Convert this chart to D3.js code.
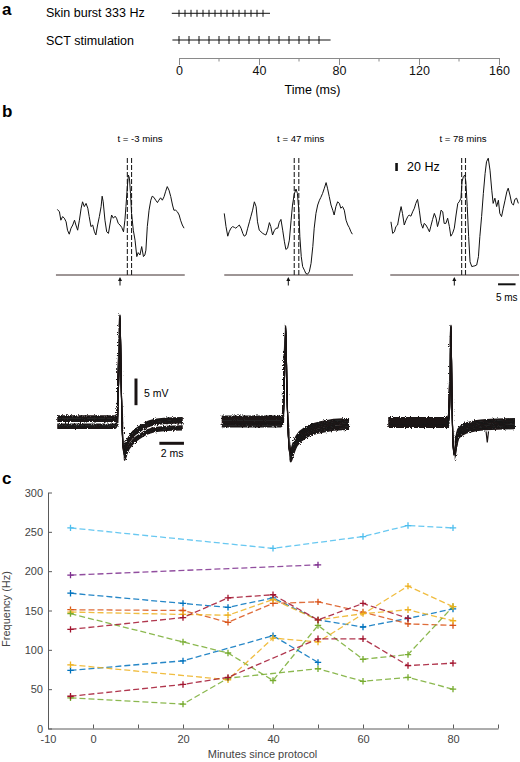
<!DOCTYPE html>
<html><head><meta charset="utf-8">
<script src="https://cdn.jsdelivr.net/npm/d3@7"></script>
<style>
body{margin:0;background:#fff}
svg{display:block}
text{font-family:"Liberation Sans",Arial,sans-serif}
</style>
</head><body>
<svg id="chart" width="520" height="762"></svg>
<script>
// ---------------- DATA ----------------
// Panel a: stimulus times (ms)
const skinBurstTimes = [0,3,6,9,12,15,18,21,24,27,30,33,36,39,42];
const sctTimes = [0,5,10,15,20,25,30,35,40,45,50,55,60,65,70];
const skinBurstSpan = [-3.6, 45.5];
const sctSpan = [-3.3, 75.8];
const timeMajorTicks = [0,40,80,120,160];
const timeMinorTicks = [20,60,100,140];

// Panel b (upper): instantaneous frequency traces [ms, Hz]
const traceLabels = ["t = -3 mins", "t = 47 mins", "t = 78 mins"];
const trace1 = [[-17.9,164],[-17.3,158],[-16.9,137],[-16.4,146],[-15.9,142],[-15.4,133],[-15.0,112],[-14.5,102],[-14.0,117],[-13.5,125],[-13.0,137],[-12.6,125],[-12.1,112],[-11.6,137],[-11.1,167],[-10.7,183],[-10.2,171],[-9.7,179],[-9.2,167],[-8.8,146],[-8.3,121],[-7.8,125],[-7.3,108],[-6.9,100],[-6.4,125],[-5.9,146],[-5.4,171],[-5.1,197],[-4.8,183],[-4.3,137],[-3.8,108],[-3.3,104],[-2.9,125],[-2.4,150],[-1.9,142],[-1.4,147],[-1.0,142],[-0.5,129],[0,125],[0.5,119],[1.0,108],[1.4,137],[1.7,171],[2.1,221],[2.4,250],[2.7,242],[3.0,204],[3.3,154],[3.8,112],[4.3,87],[4.8,46],[5.2,56],[5.7,50],[6.2,71],[6.7,46],[7.1,50],[7.4,62],[7.8,121],[8.3,162],[8.8,187],[9.2,197],[9.7,194],[10.2,187],[10.7,181],[11.1,187],[11.6,193],[12.1,187],[12.6,196],[13.0,208],[13.5,221],[14.0,212],[14.5,196],[15.0,175],[15.4,162],[15.9,162],[16.4,158],[16.9,150],[17.3,137],[17.8,125],[18.3,117]];
const trace2 = [[-18.3,154],[-17.8,121],[-17.3,97],[-16.9,108],[-16.4,117],[-15.9,121],[-15.4,119],[-15.0,117],[-14.5,121],[-14.0,125],[-13.5,117],[-13.0,104],[-12.6,97],[-12.1,100],[-11.6,117],[-11.1,133],[-10.7,146],[-10.2,162],[-9.7,183],[-9.2,171],[-8.8,133],[-8.3,112],[-7.8,108],[-7.3,104],[-6.9,102],[-6.4,100],[-5.9,112],[-5.4,131],[-5.0,121],[-4.5,100],[-4.0,111],[-3.5,117],[-3.0,117],[-2.6,131],[-2.1,139],[-1.6,112],[-1.1,83],[-0.7,64],[-0.2,67],[0.3,87],[0.8,137],[1.2,175],[1.7,202],[2.2,215],[2.6,204],[3.0,162],[3.3,96],[3.7,46],[4.1,21],[4.6,12],[5.0,4],[5.5,2],[6.0,8],[6.5,29],[7.0,71],[7.4,117],[7.9,154],[8.4,175],[8.9,187],[9.3,194],[9.8,204],[10.3,217],[10.8,231],[11.2,217],[11.7,196],[12.2,175],[12.7,162],[13.1,150],[13.6,171],[14.1,183],[14.6,179],[15.0,167],[15.5,171],[16.0,162],[16.5,137],[17.0,125],[17.4,119],[17.9,108],[18.3,102]];
const trace3 = [[-18.1,133],[-17.6,104],[-17.1,108],[-16.7,121],[-16.2,125],[-15.7,150],[-15.2,171],[-14.8,154],[-14.3,125],[-13.8,137],[-13.3,146],[-12.9,150],[-12.4,147],[-11.9,158],[-11.4,167],[-11.0,179],[-10.5,189],[-10.0,162],[-9.5,129],[-9.0,117],[-8.6,129],[-8.1,125],[-7.6,117],[-7.1,108],[-6.7,122],[-6.2,139],[-5.7,154],[-5.2,142],[-4.8,121],[-4.3,137],[-3.8,162],[-3.3,158],[-2.9,129],[-2.4,129],[-1.9,142],[-1.4,121],[-1.0,97],[-0.5,104],[0,117],[0.5,150],[1.0,179],[1.4,183],[1.9,192],[2.2,233],[2.6,246],[3.0,250],[3.3,233],[3.7,171],[4.1,96],[4.5,33],[5.0,21],[5.4,22],[5.9,23],[6.4,25],[6.9,46],[7.3,96],[7.8,146],[8.3,204],[8.8,254],[9.2,283],[9.7,292],[10.2,262],[10.7,212],[11.1,179],[11.6,192],[12.1,171],[12.6,187],[13.0,154],[13.5,146],[14.0,167],[14.5,187],[15.0,208],[15.4,217],[15.9,200],[16.4,179],[16.9,175],[17.3,189],[17.8,192],[18.3,179]];
const cursors1 = [2.1, 3.3];
const cursors2 = [1.7, 3.0];
const cursors3 = [2.1, 3.2];
const freqScaleBar = [260, 280];   // 20 Hz
const timeScaleBar = [12.5, 17.5]; // 5 ms

// Panel b (lower): spike waveform [ms] / [mV] and sweep baseline offsets [mV]
const spikeA_T = [-5.1,-0.4,-0.2,-0.1,0.0,0.1,0.22,0.35,0.55,1.1,1.6,2.4,3.8,5.1];
const spikeA_V = [0,0,0.8,9,19.8,7,-3.5,-6,-4.7,-2.8,-1.9,-0.9,-0.4,-0.3];
const spikeB_T = [-5.2,-0.4,-0.2,-0.1,0.0,0.1,0.25,0.4,0.6,0.9,1.7,2.8,5.0,5.15];
const spikeB_V = [0,0,0.8,8,17.7,6,-4,-6.6,-5.2,-3.6,-2,-1.1,-0.5,-0.5];
const spikeC_T = [-5.1,-0.3,-0.15,-0.07,0.0,0.07,0.15,0.25,0.4,0.6,1.27,2.9,5.2];
const spikeC_V = [0,0,0.8,8,18,6,-3,-6,-4,-2.1,-1,-0.4,-0.2];
const sweepOffsetsA = [1.0, 0.75, 0.45, 0.15, -0.55, -0.85, -1.15];
const sweepOffsetsB = [0.85, 0.55, 0.25, -0.05, -0.4, -0.7, -1.0];
const sweepOffsetsC = [0.75, 0.45, 0.2, -0.1, -0.4, -0.7, -0.95];
const artifactC = [[2.85,-0.8],[2.95,-2.9],[3.05,-0.8]];
const mvScaleBar = [3.1, 8.1];  // 5 mV
const msScaleBar = [3.2, 5.2];  // 2 ms

// Panel c: frequency (Hz) vs minutes since protocol
const minutes = [-5, 20, 30, 40, 50, 60, 70, 80];
const seriesLightBlue = [255, null, null, 229, null, 244, 258, 255];
const seriesPurple    = [195, null, null, null, 208, null, null, null];
const seriesBlue1     = [172, 159, 154, 166, 138, 129, 140, 152];
const seriesBlue2     = [74, 86, null, 118, 84, null, null, null];
const seriesOrange    = [151, 150, 135, 159, 161, 148, 133, 131];
const seriesYellow1   = [148, 145, 144, 164, 138, 146, 151, 137];
const seriesYellow2   = [81, null, 62, 115, 110, null, 181, 155];
const seriesGreen1    = [146, 110, 96, 61, 131, 88, 94, 155];
const seriesGreen2    = [39, 31, 64, null, 76, 60, 65, 50];
const seriesRed1      = [126, 141, 166, 170, 138, 159, 140, null];
const seriesRed2      = [41, 56, 65, null, 114, 114, 80, 83];
const xTickValues = [-10,0,10,20,30,40,50,60,70,80,90];
const xTickLabels = [-10,0,20,40,60,80];
const yTickValues = [0,50,100,150,200,250,300];

// ---------------- DRAW ----------------
const svg = d3.select("#chart");

// panel letters
[["a",2,15],["b",2,117],["c",2,484]].forEach(([t,x,y]) =>
  svg.append("text").attr("x",x).attr("y",y).attr("font-size",17).attr("font-weight","bold").text(t));

// ===== Panel a =====
const ta = d3.scaleLinear().domain([0,160]).range([179,499]);
svg.append("text").attr("x",46).attr("y",16.7).attr("font-size",12.5).text("Skin burst 333 Hz");
svg.append("text").attr("x",46).attr("y",45).attr("font-size",12.5).text("SCT stimulation");
function train(times, span, y, h) {
  const g = svg.append("g").attr("stroke","#111").attr("stroke-width",1);
  g.append("line").attr("x1",ta(span[0])).attr("x2",ta(span[1])).attr("y1",y).attr("y2",y);
  g.selectAll("line.tk").data(times).join("line").attr("class","tk")
    .attr("x1",d=>ta(d)).attr("x2",d=>ta(d)).attr("y1",y-h).attr("y2",y+h);
}
train(skinBurstTimes, skinBurstSpan, 13.3, 3.5);
train(sctTimes, sctSpan, 40, 4);
const axA = svg.append("g").attr("transform","translate(0,58)")
  .call(d3.axisBottom(ta).tickValues(timeMajorTicks).tickSize(7).tickSizeOuter(0).tickPadding(1.5));
axA.select(".domain").attr("stroke","#8a8a8a");
axA.selectAll(".tick line").attr("stroke","#8a8a8a");
axA.selectAll("text").attr("font-size",12.5).attr("fill","#111").attr("font-family","Liberation Sans, Arial, sans-serif");
svg.append("g").selectAll("line").data(timeMinorTicks).join("line")
  .attr("x1",d=>ta(d)).attr("x2",d=>ta(d)).attr("y1",58).attr("y2",61.5).attr("stroke","#8a8a8a");
svg.append("text").attr("x",312.5).attr("y",94).attr("text-anchor","middle").attr("font-size",12.5).text("Time (ms)");

// ===== Panel b upper =====
const upper = [
  {data: trace1, cursors: cursors1, x0: 120,   lx: 140},
  {data: trace2, cursors: cursors2, x0: 288.3, lx: 300.7},
  {data: trace3, cursors: cursors3, x0: 454.3, lx: 463}
];
let lastScales = null;
upper.forEach((p,i) => {
  const x = d3.scaleLinear().domain([-20,20]).range([p.x0-70, p.x0+70]);
  const y = d3.scaleLinear().domain([0,300]).range([275,155]);
  lastScales = {x,y};
  const g = svg.append("g");
  g.append("text").attr("x",p.lx).attr("y",141.5).attr("text-anchor","middle")
    .attr("font-family","DejaVu Sans, Verdana, sans-serif").attr("font-size",9.6).text(traceLabels[i]);
  g.append("line").attr("x1",x(-18.3)).attr("x2",x(18.5)).attr("y1",y(0)).attr("y2",y(0))
    .attr("stroke","#3d2c2c").attr("stroke-width",1);
  g.selectAll("line.cur").data(p.cursors).join("line").attr("class","cur")
    .attr("x1",d=>x(d)).attr("x2",d=>x(d)).attr("y1",y(0)).attr("y2",y(293))
    .attr("stroke","#222").attr("stroke-width",1.1).attr("stroke-dasharray","5,2");
  g.append("path").datum(p.data)
    .attr("d", d3.line().x(d=>x(d[0])).y(d=>y(d[1])))
    .attr("fill","none").attr("stroke","#111").attr("stroke-width",1);
  g.append("line").attr("x1",x(0)).attr("x2",x(0)).attr("y1",278.5).attr("y2",285.5)
    .attr("stroke","#111").attr("stroke-width",1);
  g.append("path").attr("d",`M${x(0)-2},${281}L${x(0)},${277}L${x(0)+2},${281}Z`).attr("fill","#111");
});
{
  const {x,y} = lastScales;
  svg.append("line").attr("x1",x(-16.5)).attr("x2",x(-16.5)).attr("y1",y(freqScaleBar[0])).attr("y2",y(freqScaleBar[1]))
    .attr("stroke","#111").attr("stroke-width",2.6);
  svg.append("text").attr("x",407).attr("y",170.5).attr("font-size",12.5).text("20 Hz");
  svg.append("line").attr("x1",x(timeScaleBar[0])).attr("x2",x(timeScaleBar[1])).attr("y1",284.3).attr("y2",284.3)
    .attr("stroke","#111").attr("stroke-width",2);
  svg.append("text").attr("x",x((timeScaleBar[0]+timeScaleBar[1])/2)).attr("y",301).attr("text-anchor","middle")
    .attr("font-size",10).text("5 ms");
}

// ===== Panel b lower =====
const defs = svg.append("defs");
const flt = defs.append("filter").attr("id","rough").attr("x","-5%").attr("y","-30%").attr("width","110%").attr("height","160%");
flt.append("feTurbulence").attr("type","fractalNoise").attr("baseFrequency","1.1").attr("numOctaves",2).attr("seed",7).attr("result","n");
flt.append("feDisplacementMap").attr("in","SourceGraphic").attr("in2","n").attr("scale",3.2);

const lower = [
  {T: spikeA_T, V: spikeA_V, off: sweepOffsetsA, x0: 120,   y0: 421.7},
  {T: spikeB_T, V: spikeB_V, off: sweepOffsetsB, x0: 285.7, y0: 421},
  {T: spikeC_T, V: spikeC_V, off: sweepOffsetsC, x0: 451,   y0: 422}
];
let firstLower = null;
lower.forEach((p,i) => {
  const x = d3.scaleLinear().domain([0,10]).range([p.x0, p.x0+123]);
  const y = d3.scaleLinear().domain([0,10]).range([p.y0, p.y0-53.3]);
  if (i===0) firstLower = {x,y};
  const pts = d3.zip(p.T, p.V);
  const gen = o => d3.line().curve(d3.curveMonotoneX).x(d=>x(d[0])).y(d=>y(d[1]+o));
  // clip: noisy band outside the spike strip, clean stroke inside it
  const sx0 = x(-0.12), sx1 = x(0.3);
  const cpOut = defs.append("clipPath").attr("id","out"+i);
  cpOut.append("rect").attr("x",0).attr("y",300).attr("width",sx0).attr("height",180);
  cpOut.append("rect").attr("x",sx1).attr("y",300).attr("width",520-sx1).attr("height",180);
  defs.append("clipPath").attr("id","in"+i).append("rect").attr("x",sx0).attr("y",300).attr("width",sx1-sx0).attr("height",180);
  const gOut = svg.append("g").attr("clip-path",`url(#out${i})`).append("g").attr("filter","url(#rough)");
  const gIn = svg.append("g").attr("clip-path",`url(#in${i})`);
  p.off.forEach(o => {
    gOut.append("path").datum(pts).attr("d", gen(o))
      .attr("fill","none").attr("stroke","#1a1414").attr("stroke-width",2.1).attr("stroke-linejoin","round");
    gIn.append("path").datum(pts).attr("d", gen(o*0.3))
      .attr("fill","none").attr("stroke","#1a1414").attr("stroke-width",1.1).attr("stroke-linejoin","round");
  });
  if (i===2) {
    svg.append("path").datum(artifactC)
      .attr("d", d3.line().x(d=>x(d[0])).y(d=>y(d[1]+p.off[6])))
      .attr("fill","none").attr("stroke","#1a1414").attr("stroke-width",1.2);
  }
});
{
  const {x,y} = firstLower;
  svg.append("line").attr("x1",x(1.3)).attr("x2",x(1.3)).attr("y1",y(mvScaleBar[0])).attr("y2",y(mvScaleBar[1]))
    .attr("stroke","#1a1414").attr("stroke-width",3);
  svg.append("text").attr("x",144).attr("y",396.5).attr("font-size",10.5).text("5 mV");
  svg.append("line").attr("x1",x(msScaleBar[0])).attr("x2",x(msScaleBar[1])).attr("y1",443.3).attr("y2",443.3)
    .attr("stroke","#1a1414").attr("stroke-width",3);
  svg.append("text").attr("x",160.7).attr("y",456.5).attr("font-size",10.5).text("2 ms");
}

// ===== Panel c =====
const xc = d3.scaleLinear().domain([-10,90]).range([48,498]);
const yc = d3.scaleLinear().domain([0,300]).range([728.5,492.5]);
const axisCol = "#5a5a5a";
const gx = svg.append("g").attr("transform","translate(0,728.5)")
  .call(d3.axisBottom(xc).tickValues(xTickValues).tickSize(-4).tickSizeOuter(0).tickPadding(6.7)
    .tickFormat(d => xTickLabels.includes(d) ? d : ""));
const gy = svg.append("g").attr("transform","translate(48,0)")
  .call(d3.axisLeft(yc).tickValues(yTickValues).tickSize(-4).tickSizeOuter(0).tickPadding(5));
[gx,gy].forEach(g => {
  g.select(".domain").attr("stroke",axisCol);
  g.selectAll(".tick line").attr("stroke",axisCol);
  g.selectAll("text").attr("font-size",11).attr("fill","#444").attr("font-family","Liberation Sans, Arial, sans-serif");
});
svg.append("text").attr("x",262.5).attr("y",757.5).attr("text-anchor","middle").attr("font-size",11).attr("fill","#444")
  .text("Minutes since protocol");
svg.append("text").attr("transform","translate(10,609) rotate(-90)").attr("text-anchor","middle").attr("font-size",11)
  .attr("fill","#444").text("Frequency (Hz)");

const seriesList = [
  {v: seriesBlue1, c: "#0072BD"},
  {v: seriesOrange, c: "#D95319"},
  {v: seriesYellow1, c: "#EDB120"},
  {v: seriesPurple, c: "#7E2F8E"},
  {v: seriesGreen1, c: "#77AC30"},
  {v: seriesLightBlue, c: "#4DBEEE"},
  {v: seriesRed1, c: "#A2142F"},
  {v: seriesBlue2, c: "#0072BD"},
  {v: seriesYellow2, c: "#EDB120"},
  {v: seriesGreen2, c: "#77AC30"},
  {v: seriesRed2, c: "#A2142F"}
];
const lineC = d3.line().x(d=>xc(d[0])).y(d=>yc(d[1]));
seriesList.forEach(s => {
  const pts = d3.zip(minutes, s.v).filter(d => d[1] !== null);
  const g = svg.append("g");
  g.append("path").datum(pts).attr("d", lineC).attr("fill","none").attr("stroke",s.c)
    .attr("stroke-width",1.3).attr("stroke-dasharray","6,3").attr("opacity",0.85);
  g.selectAll("path.m").data(pts).join("path").attr("class","m")
    .attr("d", d => `M${xc(d[0])-3.2},${yc(d[1])}H${xc(d[0])+3.2}M${xc(d[0])},${yc(d[1])-3.2}V${yc(d[1])+3.2}`)
    .attr("stroke",s.c).attr("stroke-width",1.3);
});
</script>
</body></html>
